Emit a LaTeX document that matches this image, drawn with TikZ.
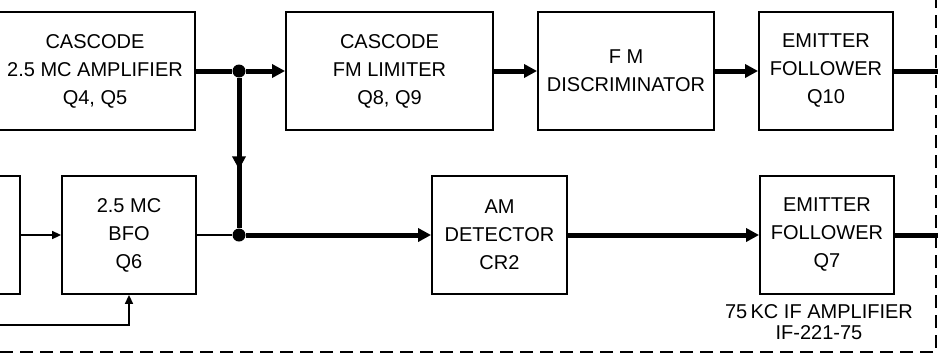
\documentclass[tikz,border=0pt]{standalone}
\usepackage{fontspec}
\setmainfont{Liberation Sans}
\usetikzlibrary{arrows.meta,calc}
\begin{document}
\begin{tikzpicture}[x=.5pt,y=-.5pt,
  blk/.style={draw,line width=.9pt,minimum height=59pt,align=center,inner sep=0pt,
    font=\fontsize{10}{14}\selectfont},
  bus/.style={line width=2.5pt},
  sig/.style={line width=.8pt},
  bigtip/.style={-{Triangle[length=6.5pt,width=6.5pt]}},
  smalltip/.style={-{Triangle[length=4.5pt,width=4pt]}},
  dot/.style={circle,fill,inner sep=0pt,minimum size=6.5pt}]
\useasboundingbox (0,0) rectangle (938,360);
\clip (0,0) rectangle (938,360);
% FM path
\node[blk,minimum width=100pt] (amp) at (95,71) {CASCODE\\2.5 MC AMPLIFIER\\Q4, Q5};
\node[blk,minimum width=103.5pt] (lim) at (389.5,71) {CASCODE\\FM LIMITER\\Q8, Q9};
\node[blk,minimum width=88pt] (disc) at (626,71) {F M\\DISCRIMINATOR};
\node[blk,minimum width=67pt] (efa) at (826,71) {EMITTER\\FOLLOWER\\Q10};
% AM path
\node[blk,minimum width=60pt] (mix) at (-40,235) {};
\node[blk,minimum width=67pt] (bfo) at (129,235) {2.5 MC\\BFO\\Q6};
\node[blk,minimum width=67.5pt] (det) at (499.5,235) {AM\\DETECTOR\\CR2};
\node[blk,minimum width=67pt] (efb) at (827,235) {EMITTER\\FOLLOWER\\Q7};
\node[align=center,font=\fontsize{10}{10.5}\selectfont] (ifamp) at (819,322) {75\,KC IF AMPLIFIER\\IF-221-75};
\node[dot] (ja) at (239,71) {};
\node[dot] (jb) at (239,235) {};
\coordinate (outa) at (950,71);
\coordinate (outb) at (950,235);
\coordinate (fb) at (-10,325);
% wires
\draw[bus] (amp.east) -- (ja);
\draw[bus,bigtip] (ja) -- (lim.west);
\draw[bus] (ja) -- (jb);
\draw[bus,bigtip] (ja) -- ($(ja)!.6!(jb)$);
\draw[bus,bigtip] (lim.east) -- (disc.west);
\draw[bus,bigtip] (disc.east) -- (efa.west);
\draw[bus] (efa.east) -- (outa);
\draw[sig,smalltip] (mix.east) -- (bfo.west);
\draw[sig] (bfo.east) -- (jb);
\draw[sig,smalltip] (fb) -| (bfo.south);
\draw[bus,bigtip] (jb) -- (det.west);
\draw[bus,bigtip] (det.east) -- (efb.west);
\draw[bus] (efb.east) -- (outb);
% chassis outline
\draw[line width=1pt,dash pattern=on 6.5pt off 3.5pt] (936,-5) -- (936,352) -- (-5,352);
\end{tikzpicture}
\end{document}
